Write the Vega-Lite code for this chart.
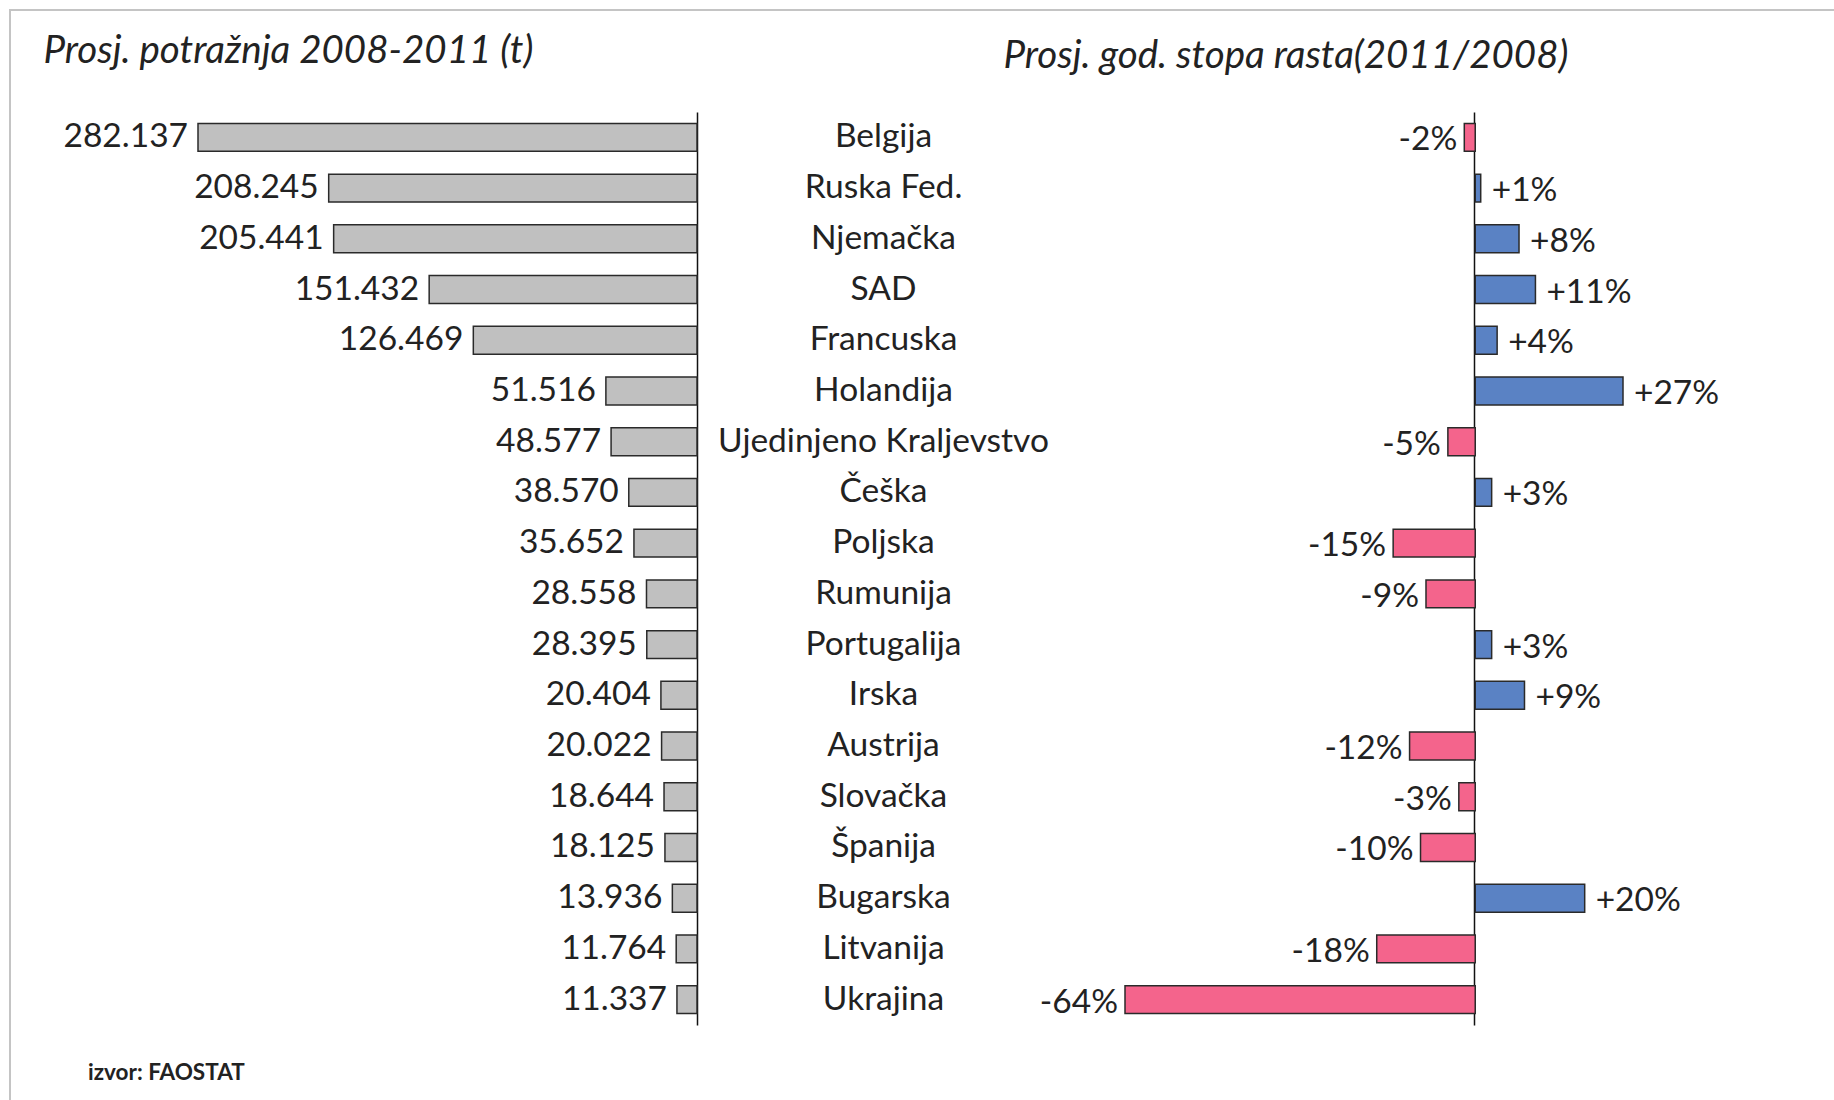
{
  "$schema": "https://vega.github.io/schema/vega-lite/v6.json",
  "width": 1828,
  "height": 1094,
  "autosize": {"type": "none"},
  "padding": {"left": 10, "top": 10, "right": -4, "bottom": -4},
  "background": "white",
  "title": {
    "text": "izvor: FAOSTAT",
    "orient": "bottom",
    "anchor": "start",
    "offset": -24,
    "baseline": "alphabetic",
    "dx": 78,
    "font": "Lato",
    "fontSize": 22.5,
    "fontWeight": "bold",
    "color": "#222222"
  },
  "data": {
    "values": [
      {"country": "Belgija", "demand": 282137, "growth": -0.02},
      {"country": "Ruska Fed.", "demand": 208245, "growth": 0.01},
      {"country": "Njemačka", "demand": 205441, "growth": 0.08},
      {"country": "SAD", "demand": 151432, "growth": 0.11},
      {"country": "Francuska", "demand": 126469, "growth": 0.04},
      {"country": "Holandija", "demand": 51516, "growth": 0.27},
      {"country": "Ujedinjeno Kraljevstvo", "demand": 48577, "growth": -0.05},
      {"country": "Češka", "demand": 38570, "growth": 0.03},
      {"country": "Poljska", "demand": 35652, "growth": -0.15},
      {"country": "Rumunija", "demand": 28558, "growth": -0.09},
      {"country": "Portugalija", "demand": 28395, "growth": 0.03},
      {"country": "Irska", "demand": 20404, "growth": 0.09},
      {"country": "Austrija", "demand": 20022, "growth": -0.12},
      {"country": "Slovačka", "demand": 18644, "growth": -0.03},
      {"country": "Španija", "demand": 18125, "growth": -0.10},
      {"country": "Bugarska", "demand": 13936, "growth": 0.20},
      {"country": "Litvanija", "demand": 11764, "growth": -0.18},
      {"country": "Ukrajina", "demand": 11337, "growth": -0.64}
    ]
  },
  "layer": [
    {
      "encoding": {
        "y": {
          "field": "country",
          "type": "nominal",
          "sort": null,
          "scale": {"range": [102, 1015], "paddingInner": 0.45, "paddingOuter": 0.225},
          "axis": {
            "orient": "right",
            "offset": -1141,
            "title": null,
            "ticks": false,
            "grid": false,
            "domain": true,
            "domainColor": "#111111",
            "domainWidth": 1.5,
            "labelAlign": "center",
            "labelBaseline": "middle",
            "labelPadding": 186,
            "labelFont": "Lato",
            "labelFontSize": 33.5,
            "labelColor": "#222222",
            "labelLimit": 600,
            "labelOverlap": false
          }
        },
        "x": {
          "field": "demand",
          "type": "quantitative",
          "scale": {"domain": [0, 282137], "range": [687, 188], "zero": true, "nice": false},
          "axis": {
            "orient": "top",
            "labels": false,
            "ticks": false,
            "domain": false,
            "grid": false,
            "title": "Prosj. potražnja 2008-2011 (t)",
            "titleX": 33,
            "titleY": 52,
            "titleAlign": "left",
            "titleBaseline": "alphabetic",
            "titleFont": "Lato",
            "titleFontStyle": "italic",
            "titleFontWeight": "normal",
            "titleFontSize": 38.5,
            "titleColor": "#222222"
          }
        }
      },
      "layer": [
        {
          "mark": {"type": "bar", "color": "#c0c0c0", "stroke": "#2a2a2a", "strokeWidth": 1.5}
        },
        {
          "mark": {"type": "text", "align": "right", "baseline": "middle", "dx": -10, "font": "Lato", "fontSize": 33.5, "color": "#222222"},
          "encoding": {"text": {"field": "demand", "type": "quantitative", "format": ",d"}}
        }
      ]
    },
    {
      "encoding": {
        "y": {
          "field": "country",
          "type": "nominal",
          "sort": null,
          "scale": {"range": [102, 1015], "paddingInner": 0.45, "paddingOuter": 0.225},
          "axis": {
            "orient": "left",
            "offset": -1464,
            "title": null,
            "ticks": false,
            "labels": false,
            "grid": false,
            "domain": true,
            "domainColor": "#111111",
            "domainWidth": 1.5
          }
        },
        "x": {
          "field": "growth",
          "type": "quantitative",
          "scale": {"domain": [-0.64, 0.27], "range": [1115, 1613], "zero": true, "nice": false},
          "axis": {
            "orient": "top",
            "labels": false,
            "ticks": false,
            "domain": false,
            "grid": false,
            "title": "Prosj. god. stopa rasta(2011/2008)",
            "titleX": 993,
            "titleY": 57,
            "titleAlign": "left",
            "titleBaseline": "alphabetic",
            "titleFont": "Lato",
            "titleFontStyle": "italic",
            "titleFontWeight": "normal",
            "titleFontSize": 38.5,
            "titleColor": "#222222"
          }
        }
      },
      "layer": [
        {
          "mark": {"type": "bar", "stroke": "#2a2a2a", "strokeWidth": 1.5},
          "encoding": {
            "color": {
              "condition": {"test": "datum.growth < 0", "value": "#f4648c"},
              "value": "#5a82c4"
            }
          }
        },
        {
          "transform": [{"filter": "datum.growth >= 0"}],
          "mark": {"type": "text", "align": "left", "baseline": "middle", "dx": 11, "dy": 3, "font": "Lato", "fontSize": 33.5, "color": "#222222"},
          "encoding": {"text": {"field": "growth", "type": "quantitative", "format": "+.0%"}}
        },
        {
          "transform": [{"filter": "datum.growth < 0"}],
          "mark": {"type": "text", "align": "right", "baseline": "middle", "dx": -7, "dy": 3, "font": "Lato", "fontSize": 33.5, "color": "#222222"},
          "encoding": {"text": {"field": "growth", "type": "quantitative", "format": "+.0%"}}
        }
      ]
    }
  ],
  "resolve": {
    "scale": {"x": "independent"},
    "axis": {"x": "independent", "y": "independent"}
  },
  "config": {
    "font": "Lato",
    "view": {"stroke": "#c4c4c4", "strokeWidth": 2},
    "locale": {
      "number": {
        "decimal": ",",
        "thousands": ".",
        "grouping": [3],
        "currency": ["", ""],
        "minus": "-",
        "percent": "%"
      }
    }
  }
}
